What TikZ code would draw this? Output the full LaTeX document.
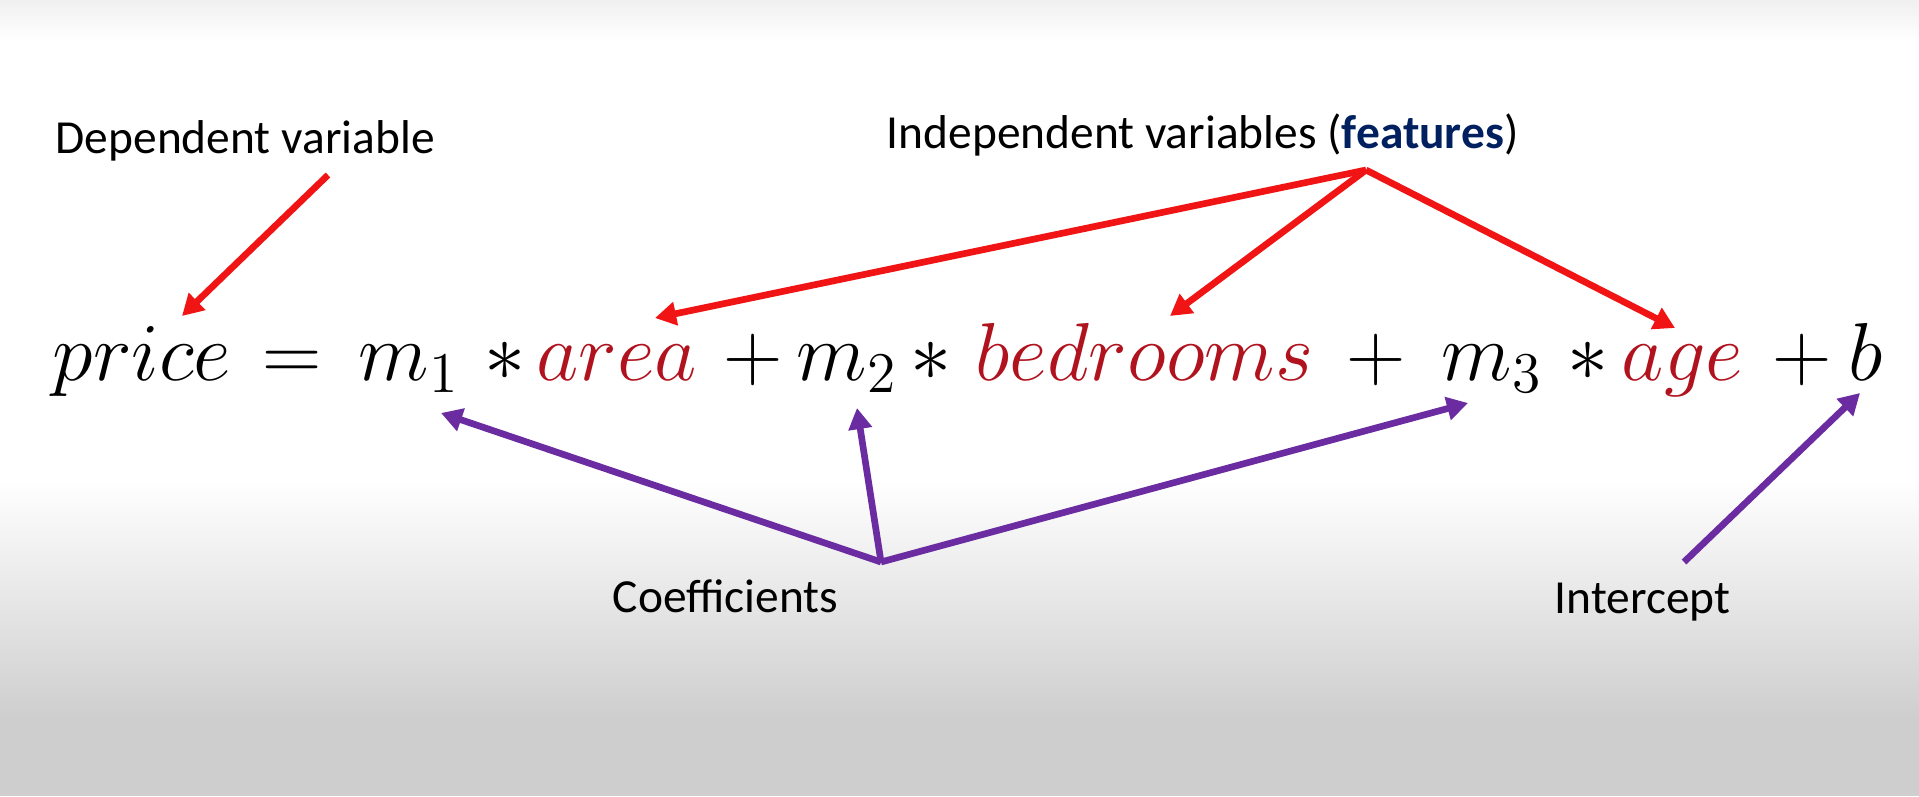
\RequirePackage{fix-cm}
\documentclass[tikz,border=0pt]{standalone}
\usepackage{amsmath}
\usepackage[no-math]{fontspec}
\setmainfont{Carlito}
\usepackage{tikz}
\usetikzlibrary{calc,arrows.meta}

\definecolor{arrRed}{RGB}{240,20,20}
\definecolor{wordRed}{RGB}{176,18,30}
\definecolor{coefPurple}{RGB}{106,44,160}
\definecolor{featBlue}{RGB}{0,32,96}
\definecolor{bgGray}{RGB}{206,206,206}

\tikzset{
  lbl/.style={anchor=base west,inner sep=0pt,font=\fontsize{13.5}{16}\selectfont},
  term/.style={anchor=base west,inner sep=0pt,font=\fontsize{23.4}{28}\selectfont},
  redarr/.style={draw=arrRed,line width=1.9pt,-{Triangle[length=6pt,width=6.5pt]}},
  purarr/.style={draw=coefPurple,line width=1.9pt,-{Triangle[length=6pt,width=6.5pt]}}
}

\begin{document}
\begin{tikzpicture}[x=0.1mm,y=-0.1mm]
\useasboundingbox (0,0) rectangle (1919,796);
% background
\fill[white] (0,0) rectangle (1919,796);
\shade[top color=gray!12,bottom color=white] (0,0) rectangle (1919,40);
\shade[top color=white,bottom color=bgGray] (0,480) rectangle (1919,720);
\fill[bgGray] (0,719) rectangle (1919,796);

% labels
\node[lbl] (dep) at (55,153) {Dependent variable};
\node[lbl] (indep) at (886,148) {Independent variables (\textcolor{featBlue}{\textbf{features}})};
\node[lbl] (coef) at (612,612) {Coefficients};
\node[lbl] (icpt) at (1554,613) {Intercept};

% equation
\node[term] (price) at (52,380) {$price$};
\node[term] (eq) at (262,380) {$=$};
\node[term] (m1) at (358,380) {$m_1$};
\node[term] (s1) at (484,380) {$*$};
\node[term,text=wordRed] (area) at (536,380) {$area$};
\node[term] (p1) at (723,380) {$+$};
\node[term] (m2) at (796,380) {$m_2$};
\node[term] (s2) at (910,380) {$*$};
\node[term,text=wordRed] (bed) at (975,380) {$bedrooms$};
\node[term] (p2) at (1346,380) {$+$};
\node[term] (m3) at (1441,380) {$m_3$};
\node[term] (s3) at (1567,380) {$*$};
\node[term,text=wordRed] (age) at (1621,380) {$age$};
\node[term] (p3) at (1772,380) {$+$};
\node[term] (b) at (1848,380) {$b$};

% forks
\coordinate (fork) at ($(indep.base west)+(480,22)$);
\coordinate (cfork) at ($(coef.base west)+(269,-50)$);

% red arrows
\draw[redarr] ($(dep.base west)+(273,22)$) -- ($(price.base west)+(130,-64)$);
\draw[redarr,line join=round] (fork) -- ($(area.base west)+(119,-62)$);
\draw[redarr] (fork) -- ($(bed.base west)+(195,-64)$);
\draw[redarr] (fork) -- ($(age.base west)+(54,-52)$);

% purple arrows
\draw[purarr] (cfork) -- ($(m1.base west)+(83,33)$);
\draw[purarr] (cfork) -- ($(m2.base west)+(61,28)$);
\draw[purarr] (cfork) -- ($(m3.base west)+(27,23)$);
\draw[purarr] ($(icpt.base west)+(130,-51)$) -- ($(b.base west)+(12,13)$);
\end{tikzpicture}
\end{document}
